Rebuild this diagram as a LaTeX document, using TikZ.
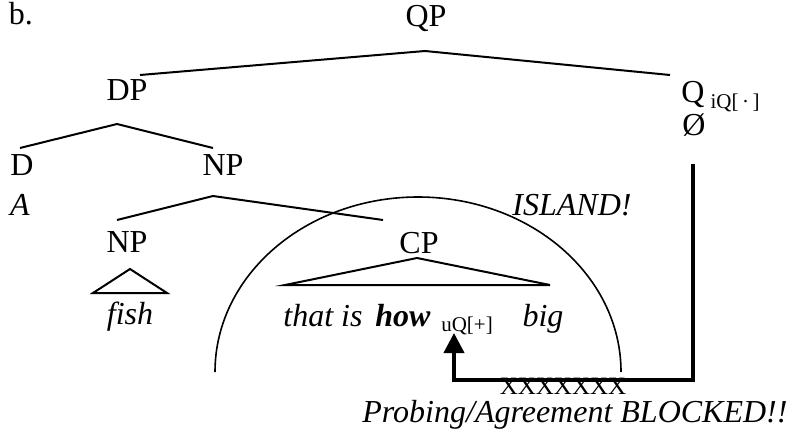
\documentclass[tikz,border=0pt]{standalone}
\usepackage{fontspec}
\setmainfont{Liberation Serif}
\usetikzlibrary{arrows.meta}

\tikzset{
  lab/.style={anchor=base,inner sep=0pt,font=\fontsize{16}{19}\selectfont},
  word/.style={lab,font=\fontsize{16}{19}\selectfont\itshape},
  feat/.style={lab,font=\fontsize{10.5}{12}\selectfont},
  branch/.style={line width=1pt},
  probe/.style={line width=2pt,-{Triangle[width=10pt,length=10pt]}},
}

\begin{document}
\begin{tikzpicture}[x=0.5pt,y=-0.5pt]
  \useasboundingbox (0,0) rectangle (791,444);
  \draw
    (21,25) node[lab] (b){b.}
    (426,27) node[lab] (qp){QP}
    (127,100) node[lab] (dp){DP}
    (693,103) node[lab] (q){Q}
    (735,108) node[feat] (qfeat){iQ[\,·\,]}
    (694,135) node[lab] (null){Ø}
    (22,175) node[lab] (d){D}
    (223,175) node[lab] (np){NP}
    (20,215) node[word] (a){A}
    (127,252) node[lab] (np2){NP}
    (419,253) node[lab] (cp){CP}
    (130,324) node[word] (fish){fish}
    (323,326) node[word] (that){that is}
    (403,326) node[word,font=\fontsize{16}{19}\selectfont\bfseries\itshape] (how){how}
    (467,331) node[feat] (uq){uQ[+]}
    (543,326) node[word] (big){big}
    (572,215) node[word] (island){ISLAND!}
    (563,394) node[lab,font=\fontsize{12.5}{15}\selectfont] (xx){XXXXXXX}
    (362,422) node[word,anchor=base west] (blocked){Probing/Agreement BLOCKED!!};
  \begin{scope}[branch]
    \draw ([shift={(13,-25)}]dp.base) -- ([shift={(-1,24)}]qp.base) -- ([shift={(-23,-28)}]q.base);
    \draw ([shift={(-2,-27)}]d.base) -- ([shift={(-10,24)}]dp.base) -- ([shift={(-10,-27)}]np.base);
    \draw ([shift={(-10,-32)}]np2.base) -- ([shift={(-10,21)}]np.base) -- ([shift={(-36,-33)}]cp.base);
    % roofs
    \draw ([shift={(-34,41)}]np2.base) -- ([shift={(3,17)}]np2.base) -- ([shift={(40,41)}]np2.base) -- cycle;
    \draw ([shift={(-134,32)}]cp.base) -- ([shift={(-2,5)}]cp.base) -- ([shift={(131,32)}]cp.base) -- cycle;
  \end{scope}
  % island boundary
  \draw[line width=0.8pt] (215,372) arc[start angle=180,end angle=360,x radius=203,y radius=175];
  % probe path from Q down to the wh-word
  \draw[probe] ([shift={(-1,29)}]null.base) -- ++(0,216) -| ([shift={(-13,2)}]uq.base);
\end{tikzpicture}
\end{document}
